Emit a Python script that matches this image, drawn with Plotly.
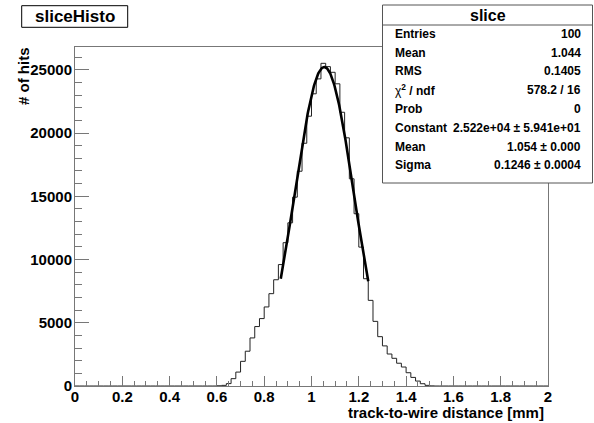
import numpy as np
import plotly.graph_objects as go

# ---------------- data ----------------
bin_width = 0.02
x_range = [0.0, 2.0]
first_filled_edge = 0.60
counts_filled = [20, 50, 190, 580, 1100, 1950, 2750, 3800, 4700, 5330,
                 6250, 7300, 8400, 9600, 11330, 12900, 14930, 16980, 19190, 21330,
                 23100, 24280, 25510, 25250, 24800, 23890, 21640, 19620, 16380, 13620,
                 10980, 8480, 6770, 5110, 3900, 3170, 2530, 2190, 1800, 1500,
                 1050, 680, 390, 180, 50, 10]
y_max = 26800

fit_constant = 2.522e4
fit_mean = 1.054
fit_sigma = 0.1246
fit_range = [0.87, 1.24]

x_ticks = [0, 0.2, 0.4, 0.6, 0.8, 1.0, 1.2, 1.4, 1.6, 1.8, 2.0]
x_tick_text = ["0", "0.2", "0.4", "0.6", "0.8", "1", "1.2", "1.4", "1.6", "1.8", "2"]
y_ticks = [0, 5000, 10000, 15000, 20000, 25000]
y_tick_text = ["0", "5000", "10000", "15000", "20000", "25000"]

stats_labels = ["Entries", "Mean", "RMS", "<span style='font-weight:normal'>\u03c7</span><sup>2</sup> / ndf",
                "Prob", "Constant", "Mean", "Sigma"]
stats_values = ["100", "1.044", "0.1405", "578.2 / 16", "0",
                "2.522e+04 \u00b1 5.941e+01", "1.054 \u00b1 0.000", "0.1246 \u00b1 0.0004"]

# ---------------- build histogram outline ----------------
n_bins = int(round((x_range[1] - x_range[0]) / bin_width))
counts = np.zeros(n_bins)
start = int(round((first_filled_edge - x_range[0]) / bin_width))
counts[start:start + len(counts_filled)] = counts_filled
edges = x_range[0] + bin_width * np.arange(n_bins + 1)
hx = list(edges)
hy = list(counts) + [counts[-1]]

fx = np.linspace(fit_range[0], fit_range[1], 200)
fy = fit_constant * np.exp(-0.5 * ((fx - fit_mean) / fit_sigma) ** 2)

FONT = "Liberation Sans, Arial, Helvetica, sans-serif"
W, H = 594, 423
ML, MR, MT, MB = 75, 46, 47, 37
PW, PH = W - ML - MR, H - MT - MB


def px(x):
    return (x - ML) / PW


def py(y):
    return (H - MB - y) / PH


fig = go.Figure()
fig.add_trace(go.Scatter(x=hx, y=hy, mode="lines", line=dict(shape="hv", color="#222", width=1),
                         hoverinfo="skip", showlegend=False))
fig.add_trace(go.Scatter(x=fx, y=fy, mode="lines", line=dict(color="black", width=2.6),
                         hoverinfo="skip", showlegend=False))

axis_common = dict(showgrid=False, zeroline=False, showline=True, linecolor="#777", linewidth=1,
                   mirror=True, ticks="inside", tickcolor="#777",
                   tickfont=dict(family=FONT, size=15, color="black", weight="bold"))

fig.update_xaxes(range=x_range, tickmode="array", tickvals=x_ticks, ticktext=x_tick_text,
                 ticklen=10, ticklabelstandoff=-3,
                 minor=dict(dtick=0.05, tick0=0, ticklen=5, ticks="inside", tickcolor="#777"),
                 **axis_common)
fig.update_yaxes(range=[0, y_max], tickmode="array", tickvals=y_ticks, ticktext=y_tick_text,
                 ticklen=14, ticklabelstandoff=-1,
                 minor=dict(dtick=1000, tick0=0, ticklen=7, ticks="inside", tickcolor="#777"),
                 **axis_common)

shapes = []
annotations = []

# title box
shapes.append(dict(type="rect", xref="paper", yref="paper", x0=px(21.7), x1=px(127.7),
                   y0=py(27.3), y1=py(5.7), line=dict(color="black", width=1), fillcolor="white",
                   layer="above"))
annotations.append(dict(text="sliceHisto", xref="paper", yref="paper", x=px(74.7), y=py(16.5),
                        xanchor="center", yanchor="middle", showarrow=False,
                        font=dict(family=FONT, size=17, color="black", weight="bold")))

# stats box
shapes.append(dict(type="rect", xref="paper", yref="paper", x0=px(382.5), x1=px(592.5),
                   y0=py(183), y1=py(5), line=dict(color="#555", width=1), fillcolor="white",
                   layer="above"))
shapes.append(dict(type="line", xref="paper", yref="paper", x0=px(382.5), x1=px(592.5),
                   y0=py(25), y1=py(25), line=dict(color="#555", width=1), layer="above"))
annotations.append(dict(text="slice", xref="paper", yref="paper", x=px(487.5), y=py(15),
                        xanchor="center", yanchor="middle", showarrow=False,
                        font=dict(family=FONT, size=16, color="black", weight="bold")))
for i, (lab, val) in enumerate(zip(stats_labels, stats_values)):
    yy = 34 + 18.75 * i
    annotations.append(dict(text=lab, xref="paper", yref="paper", x=px(392.7), y=py(yy),
                            xanchor="left", yanchor="middle", showarrow=False,
                            font=dict(family=FONT, size=12, color="black", weight="bold")))
    annotations.append(dict(text=val, xref="paper", yref="paper", x=px(583.3), y=py(yy),
                            xanchor="right", yanchor="middle", showarrow=False,
                            font=dict(family=FONT, size=12, color="black", weight="bold")))

# axis titles
annotations.append(dict(text="# of hits", xref="paper", yref="paper", x=px(23), y=py(76),
                        xanchor="center", yanchor="middle", textangle=-90, showarrow=False,
                        font=dict(family=FONT, size=15, color="black", weight="bold")))
annotations.append(dict(text="track-to-wire distance [mm]", xref="paper", yref="paper", x=px(546),
                        y=py(412), xanchor="right", yanchor="middle", showarrow=False,
                        font=dict(family=FONT, size=15, color="black", weight="bold")))

fig.update_layout(width=W, height=H, margin=dict(l=ML, r=MR, t=MT, b=MB),
                  paper_bgcolor="white", plot_bgcolor="white",
                  shapes=shapes, annotations=annotations, showlegend=False)

fig.write_html("out.html")
